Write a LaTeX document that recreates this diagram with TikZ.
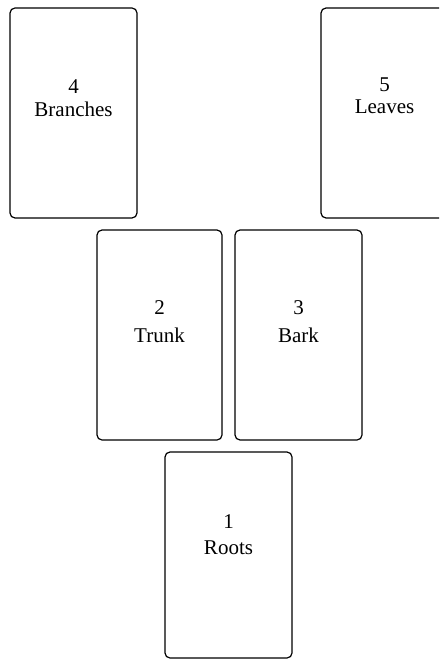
\documentclass[tikz,border=0pt]{standalone}
\usepackage{fontspec}
\setmainfont{Liberation Serif}
\usetikzlibrary{calc}
\begin{document}
\begin{tikzpicture}[x=1pt,y=-1pt,
  card/.style={draw=black, line width=1.2pt, rounded corners=5pt, fill=white, inner sep=0pt},
  lbl/.style={anchor=base, inner sep=0pt, font=\fontsize{21}{25}\selectfont}]
\useasboundingbox (0,0) rectangle (439,660);
\clip (0,0) rectangle (439,660);
\node[card, minimum width=127pt, minimum height=210pt] (c4) at (73.5,113) {};
\node[card, minimum width=127pt, minimum height=210pt] (c5) at (384.5,113) {};
\node[card, minimum width=125pt, minimum height=210pt] (c2) at (159.5,335) {};
\node[card, minimum width=127pt, minimum height=210pt] (c3) at (298.5,335) {};
\node[card, minimum width=127pt, minimum height=206pt] (c1) at (228.5,555) {};
\node[lbl] (n4) at (73.5,94) {4};
\node[lbl] (t4) at (73.5,117) {Branches};
\node[lbl] (n5) at (384.5,92) {5};
\node[lbl] (t5) at (384.5,114) {Leaves};
\node[lbl] (n2) at (159.5,314) {2};
\node[lbl] (t2) at (159.5,342) {Trunk};
\node[lbl] (n3) at (298.5,314) {3};
\node[lbl] (t3) at (298.5,342) {Bark};
\node[lbl] (n1) at (228.5,528) {1};
\node[lbl] (t1) at (228.5,554) {Roots};
\end{tikzpicture}
\end{document}
